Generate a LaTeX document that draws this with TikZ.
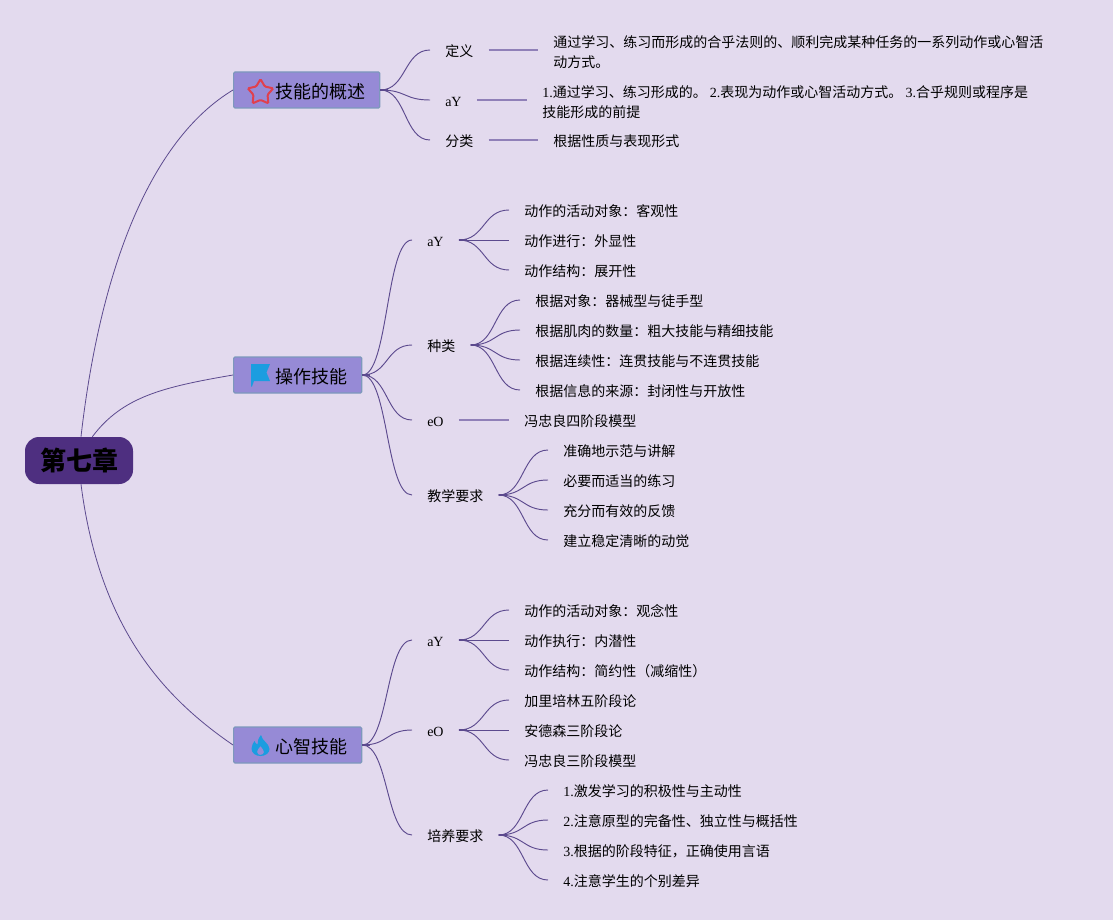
\documentclass[tikz,border=0pt]{standalone}
\usepackage{fontspec}
\setmainfont{Noto Sans CJK SC}
\newfontfamily\latfont{Liberation Serif}
\newcommand{\lat}[1]{{\latfont #1}}
\usetikzlibrary{shapes.geometric}
\definecolor{bgc}{HTML}{E3DAEE}
\definecolor{rootc}{HTML}{4E2F80}
\definecolor{boxc}{HTML}{968AD6}
\definecolor{boxl}{HTML}{7D98BC}
\definecolor{curvec}{HTML}{5C4A8E}
\definecolor{linec}{HTML}{9080B8}
\definecolor{iconblue}{HTML}{1B9DE0}
\definecolor{iconred}{HTML}{E0404E}
\tikzset{
  rootnode/.style={fill=rootc,rounded corners=10.5pt,minimum width=81pt,minimum height=35.25pt,inner sep=0pt,
    font=\fontsize{19.5pt}{24pt}\selectfont\bfseries,text=black},
  topicbox/.style={fill=boxc,draw=boxl,line width=.9pt,rounded corners=1pt,anchor=west,minimum height=27pt,inner sep=0pt,
    text height=13.3pt,text depth=.9pt,font=\fontsize{13.5pt}{18pt}\selectfont,text=black},
  para/.style={anchor=west,inner xsep=11.25pt,inner ysep=0pt,align=left,
    font=\fontsize{10.5pt}{15pt}\selectfont,text=black},
  lbl/.style={para,text height=9.5pt,text depth=0.1pt},
  curveline/.style={draw=curvec,line width=.7pt},
  thinroot/.style={draw=curvec,line width=.6pt},
  stubline/.style={draw=curvec,line width=1.5pt},
  straight/.style={draw=linec,line width=1pt},
}
\newcommand{\tbox}[1]{\hspace*{31.5pt}#1\hspace*{10.6pt}}
\newcommand{\cv}[2]{\draw[curveline] (#1.east) .. controls +(26,0) and +(-26,0) .. (#2.west);}
\newcommand{\stub}[1]{\draw[stubline] (#1.east) -- +(8,0);}
\begin{document}
\begin{tikzpicture}[x=.75pt,y=-.75pt]
\useasboundingbox (0,0) rectangle (1113,920);
\fill[bgc] (0,0) rectangle (1113,920);

\node[rootnode] (root) at (79,460.5) {第七章};
\node[topicbox] (t1) at (233,90) {\tbox{技能的概述}};
\node[topicbox] (t2) at (233,375) {\tbox{操作技能}};
\node[topicbox] (t3) at (233,745) {\tbox{心智技能}};

% topic 1
\node[lbl] (a1) at (430,50) {定义};
\node[lbl] (a2) at (430,100) {\lat{aY}};
\node[lbl] (a3) at (430,140) {分类};
\node[para] (a1x) at (538,52) {通过学习、练习而形成的合乎法则的、顺利完成某种任务的一系列动作或心智活\\动方式。};
\node[para] (a2x) at (527,102) {\lat{1.}通过学习、练习形成的。 \lat{2.}表现为动作或心智活动方式。 \lat{3.}合乎规则或程序是\\技能形成的前提};
\node[lbl] (a3x) at (538,140) {根据性质与表现形式};

% topic 2
\node[lbl] (b1) at (412,240) {\lat{aY}};
\node[lbl] (b2) at (412,345) {种类};
\node[lbl] (b3) at (412,420) {\lat{eO}};
\node[lbl] (b4) at (412,495) {教学要求};
\node[lbl] (b11) at (509,210) {动作的活动对象：客观性};
\node[lbl] (b12) at (509,240) {动作进行：外显性};
\node[lbl] (b13) at (509,270) {动作结构：展开性};
\node[lbl] (b21) at (520,300) {根据对象：器械型与徒手型};
\node[lbl] (b22) at (520,330) {根据肌肉的数量：粗大技能与精细技能};
\node[lbl] (b23) at (520,360) {根据连续性：连贯技能与不连贯技能};
\node[lbl] (b24) at (520,390) {根据信息的来源：封闭性与开放性};
\node[lbl] (b31) at (509,420) {冯忠良四阶段模型};
\node[lbl] (b41) at (548,450) {准确地示范与讲解};
\node[lbl] (b42) at (548,480) {必要而适当的练习};
\node[lbl] (b43) at (548,510) {充分而有效的反馈};
\node[lbl] (b44) at (548,540) {建立稳定清晰的动觉};

% topic 3
\node[lbl] (c1) at (412,640) {\lat{aY}};
\node[lbl] (c2) at (412,730) {\lat{eO}};
\node[lbl] (c3) at (412,835) {培养要求};
\node[lbl] (c11) at (509,610) {动作的活动对象：观念性};
\node[lbl] (c12) at (509,640) {动作执行：内潜性};
\node[lbl] (c13) at (509,670) {动作结构：简约性（减缩性）};
\node[lbl] (c21) at (509,700) {加里培林五阶段论};
\node[lbl] (c22) at (509,730) {安德森三阶段论};
\node[lbl] (c23) at (509,760) {冯忠良三阶段模型};
\node[lbl] (c31) at (548,790) {\lat{1.}激发学习的积极性与主动性};
\node[lbl] (c32) at (548,820) {\lat{2.}注意原型的完备性、独立性与概括性};
\node[lbl] (c33) at (548,850) {\lat{3.}根据的阶段特征，正确使用言语};
\node[lbl] (c34) at (548,880) {\lat{4.}注意学生的个别差异};

% root connectors
\draw[thinroot] ([xshift=1.5pt]root.north) .. controls +(19,-167) and (150,140) .. (t1.west);
\draw[thinroot] ([xshift=10pt]root.north) .. controls +(30,-40) and +(-70,12) .. (t2.west);
\draw[thinroot] ([xshift=1.5pt]root.south) .. controls +(18,140) and (160,695) .. (t3.west);

% topic connectors
\foreach \k in {a1,a2,a3} {\cv{t1}{\k}}
\foreach \k in {b1,b2,b3,b4} {\cv{t2}{\k}}
\foreach \k in {c1,c2,c3} {\cv{t3}{\k}}
\foreach \k in {b11,b12,b13} {\cv{b1}{\k}}
\foreach \k in {b21,b22,b23,b24} {\cv{b2}{\k}}
\foreach \k in {b41,b42,b43,b44} {\cv{b4}{\k}}
\foreach \k in {c11,c12,c13} {\cv{c1}{\k}}
\foreach \k in {c21,c22,c23} {\cv{c2}{\k}}
\foreach \k in {c31,c32,c33,c34} {\cv{c3}{\k}}
\foreach \k in {t1,t2,t3,b1,b2,b4,c1,c2,c3} {\stub{\k}}
\draw[straight] (a1.east) -- (a1.east -| a1x.west);
\draw[straight] (a2.east) -- (a2.east -| a2x.west);
\draw[straight] (a3.east) -- (a3x.west);
\draw[straight] (b3.east) -- (b31.west);

% icons
\node[star,star points=5,star point ratio=1.8,draw=iconred,line width=1.5pt,rounded corners=.8pt,
  minimum size=20pt,inner sep=0pt] (staricon) at (260.5,92.5) {};
\fill[iconblue] (251,364) -- (270,364) -- (266.5,372.5) -- (270,381) -- (254,381) -- (252,386.5) -- (251,386.5) -- cycle;
\fill[iconblue,even odd rule]
  (261,735) .. controls (262,741) and (269,743) .. (269.5,749)
  .. controls (269.5,753) and (265.5,756) .. (260.5,756)
  .. controls (255.5,756) and (251.5,753) .. (251.5,748.5)
  .. controls (251.5,745) and (253.5,743) .. (254.5,741)
  .. controls (255.5,743) and (256,744) .. (257.5,744.5)
  .. controls (257.5,741) and (258.5,738) .. (261,735) -- cycle
  (260.5,746) .. controls (258.5,748.5) and (257,750) .. (257,752)
  .. controls (257,754) and (259,755) .. (260.5,755)
  .. controls (262.5,755) and (264,753.5) .. (264,752)
  .. controls (264,750) and (262,748) .. (260.5,746) -- cycle;
\end{tikzpicture}
\end{document}
